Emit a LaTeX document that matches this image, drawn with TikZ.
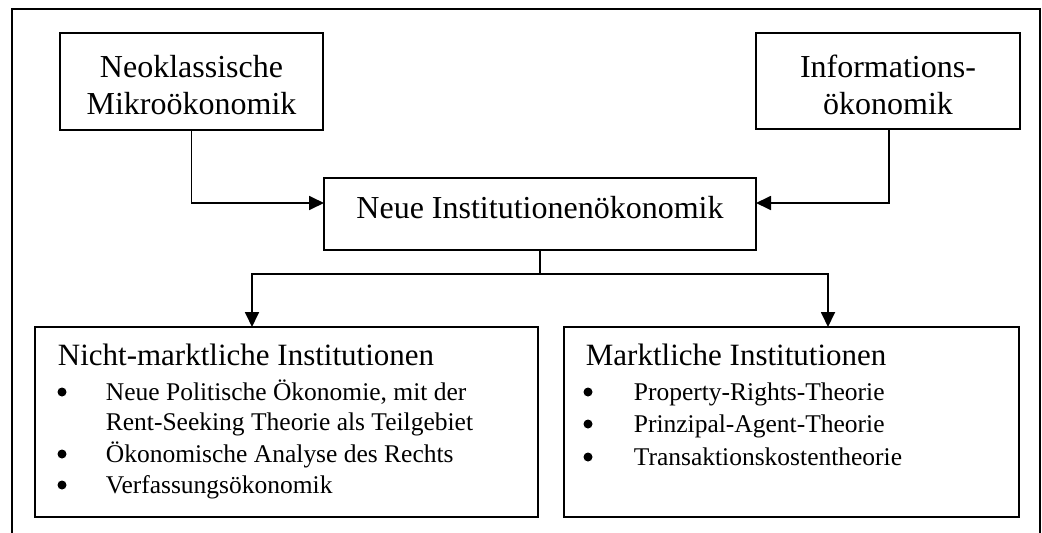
\documentclass[tikz,border=0pt]{standalone}
\usepackage{fontspec}
\setmainfont{Liberation Serif}
\usetikzlibrary{arrows.meta}
\begin{document}
\begin{tikzpicture}[x=1pt,y=-1pt,
  line width=1.8pt,
  box/.style={draw, line width=1.8pt, inner sep=0pt, outer sep=0pt, anchor=north west},
  toptext/.style={font=\fontsize{32}{37}\selectfont, align=center},
  headtext/.style={font=\fontsize{31}{36}\selectfont, anchor=base west, inner sep=0pt},
  itemtext/.style={font=\fontsize{25.5}{30}\selectfont, anchor=base west, inner sep=0pt},
  arr/.style={-{Triangle[length=15pt,width=14pt]}, line width=1.8pt},
  bulletdot/.style={fill, circle, inner sep=0pt, minimum size=9pt}]
  \useasboundingbox (0,0) rectangle (1042,533);
  % open frame round the whole chart
  \draw (12,533) -- (12,9) -- (1040,9) -- (1040,533);

  % upper row
  \node[box, minimum width=263pt, minimum height=97pt] (neo) at (60,33) {};
  \node[toptext] at ([yshift=-4pt]neo.center) {Neoklassische\\Mikroökonomik};
  \node[box, minimum width=264pt, minimum height=96pt] (info) at (756,33) {};
  \node[toptext] at ([yshift=-4pt]info.center) {Informations-\\ökonomik};

  % central box
  \node[box, minimum width=432pt, minimum height=72pt] (nio) at (324,178) {};
  \node[toptext, anchor=base] at (540,218) {Neue Institutionenökonomik};

  % lower row
  \node[box, minimum width=503pt, minimum height=190pt] (nm) at (35,327) {};
  \node[box, minimum width=455pt, minimum height=190pt] (mk) at (564,327) {};

  % contents of the left lower box
  \node[headtext] at (57,365) {Nicht-marktliche Institutionen};
  \node[bulletdot] at (62,392) {};
  \node[itemtext] at (105,400) {Neue Politische Ökonomie, mit der};
  \node[itemtext] at (105,430) {Rent-Seeking Theorie als Teilgebiet};
  \node[bulletdot] at (62,454) {};
  \node[itemtext] at (105,462) {Ökonomische Analyse des Rechts};
  \node[bulletdot] at (62,485) {};
  \node[itemtext] at (105,493) {Verfassungsökonomik};

  % contents of the right lower box
  \node[headtext] at (585,365) {Marktliche Institutionen};
  \node[bulletdot] at (588,392) {};
  \node[itemtext] at (633,400) {Property-Rights-Theorie};
  \node[bulletdot] at (588,424) {};
  \node[itemtext] at (633,432) {Prinzipal-Agent-Theorie};
  \node[bulletdot] at (588,457) {};
  \node[itemtext] at (633,465) {Transaktionskostentheorie};

  % connectors
  \draw[arr] (neo.south) |- ([yshift=11pt]nio.west);
  \draw[arr] ([xshift=1pt]info.south) |- ([yshift=11pt]nio.east);
  \path (nio.south) ++(0,24) coordinate (split);
  \draw (nio.south) -- (split);
  \draw[arr] (split) -| ([xshift=217pt]nm.north west);
  \draw[arr] (split) -| ([xshift=264pt]mk.north west);
\end{tikzpicture}
\end{document}
